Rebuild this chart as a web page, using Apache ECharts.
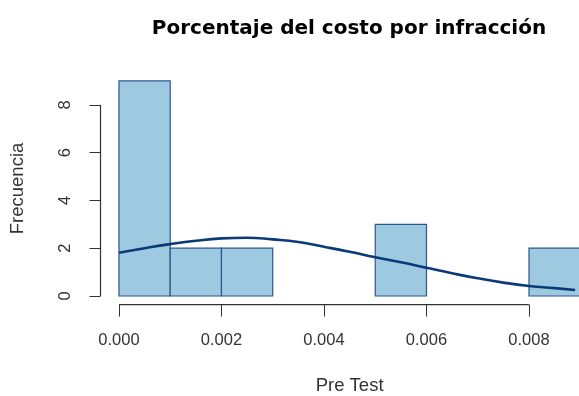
<!DOCTYPE html>
<html><head><meta charset="utf-8">
<script src="https://cdn.jsdelivr.net/npm/echarts@6/dist/echarts.min.js"></script>
<style>html,body{margin:0;padding:0;background:#fff}#c{width:579px;height:396px}</style>
</head><body><div id="c"></div>
<script>
const binStart = [0, 0.001, 0.002, 0.005, 0.008];
const binEnd   = [0.001, 0.002, 0.003, 0.006, 0.009];
const counts   = [9, 2, 2, 3, 2];
const curveX = [0,0.0005,0.001,0.0015,0.002,0.0025,0.003,0.0035,0.004,0.0045,0.005,0.0055,0.006,0.0065,0.007,0.0075,0.008,0.0085,0.0089];
const curveY = [1.81,2.0,2.17,2.31,2.41,2.44,2.37,2.26,2.06,1.85,1.62,1.41,1.18,0.95,0.74,0.56,0.42,0.33,0.25];
const xTicks = [0,0.002,0.004,0.006,0.008];
const yTicks = [0,2,4,6,8];

const font = "Liberation Sans, Arial, sans-serif";
const chart = echarts.init(document.getElementById('c'), null, {renderer:'canvas'});
const histData = binStart.map((s,i)=>[s, binEnd[i], counts[i]]);
chart.setOption({
  animation:false,
  title:{text:'Porcentaje del costo por infracción', left:344, top:14, textAlign:'center',
    textStyle:{fontFamily:'DejaVu Sans', fontWeight:'bold', fontSize:20, color:'#000'}},
  grid:{left:100.5, top:72.3, width:498.2, height:232.3, outerBoundsMode:'none', containLabel:false},
  xAxis:{type:'value', min:-0.00036, max:0.00936,
    name:'Pre Test', nameLocation:'middle', nameGap:72,
    nameTextStyle:{fontFamily:font, fontSize:18.5, color:'#333'},
    axisLine:{show:false, onZero:false}, splitLine:{show:false},
    axisTick:{show:true, inside:false, length:12, lineStyle:{color:'#333'}, customValues:xTicks},
    axisLabel:{fontFamily:font, fontSize:16.5, color:'#333', margin:27, customValues:xTicks,
      formatter:v=>v.toFixed(3)}},
  yAxis:{type:'value', min:-0.36, max:9.36,
    name:'Frecuencia', nameLocation:'middle', nameGap:73, nameRotate:90,
    nameTextStyle:{fontFamily:font, fontSize:18.5, color:'#333'},
    axisLine:{show:false, onZero:false}, splitLine:{show:false},
    axisTick:{show:true, inside:false, length:11, lineStyle:{color:'#333'}, customValues:yTicks},
    axisLabel:{fontFamily:font, fontSize:16.5, color:'#333', margin:35, rotate:90, customValues:yTicks,
      verticalAlign:'middle', align:'center'}},
  series:[
    {type:'custom', data:histData, clip:false,
     renderItem:(params, api)=>{
       const p0 = api.coord([api.value(0), 0]);
       const p1 = api.coord([api.value(1), api.value(2)]);
       return {type:'rect', shape:{x:p0[0], y:p1[1], width:p1[0]-p0[0], height:p0[1]-p1[1]},
         style:{fill:'#9ecae1', stroke:'#2e5590', lineWidth:1.2}};
     }},
    {type:'line', data:curveX.map((x,i)=>[x,curveY[i]]), smooth:true, symbol:'none',
     lineStyle:{color:'#0b3a78', width:2.6}}
  ]
});
const a = chart.convertToPixel({gridIndex:0}, [xTicks[0], -0.36]);
const b = chart.convertToPixel({gridIndex:0}, [xTicks[xTicks.length-1], -0.36]);
const c = chart.convertToPixel({gridIndex:0}, [-0.00036, yTicks[0]]);
const d = chart.convertToPixel({gridIndex:0}, [-0.00036, yTicks[yTicks.length-1]]);
chart.setOption({graphic:[
  {type:'line', shape:{x1:a[0], y1:a[1], x2:b[0], y2:b[1]}, style:{stroke:'#333', lineWidth:1.2}},
  {type:'line', shape:{x1:c[0], y1:c[1], x2:d[0], y2:d[1]}, style:{stroke:'#333', lineWidth:1.2}}
]});
</script></body></html>
